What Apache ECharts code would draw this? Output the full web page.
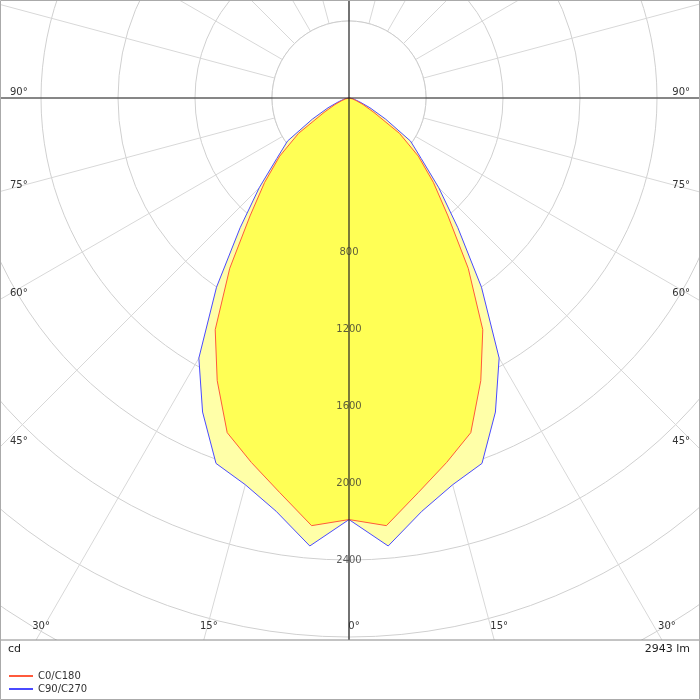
<!DOCTYPE html>
<html><head><meta charset="utf-8">
<script src="https://cdn.jsdelivr.net/npm/echarts@6/dist/echarts.min.js"></script>
<style>html,body{margin:0;padding:0;background:#fff}#chart{width:700px;height:700px}</style>
</head><body><div id="chart"></div>
<script>
// half-curve angles (deg from nadir) and intensities (cd)
var angles = [0, 5, 10, 15, 20, 25, 30, 35, 40, 45, 50, 55, 60, 65, 70, 75, 80, 90];
var c0c180 = [2190, 2230, 2080, 1960, 1850, 1620, 1390, 1080, 800, 620, 470, 320, 150, 80, 40, 20, 10, 0];
var c90c270 = [2190, 2336, 2180, 2080, 2020, 1800, 1560, 1200, 880, 660, 490, 390, 220, 120, 60, 30, 12, 0];
var radiusTicks = [800, 1200, 1600, 2000, 2400];
var sideLabels = [90, 75, 60, 45];
var bottomLabels = [30, 15, 0];
var lumen = '2943 lm';

var cx = 349, cy = 98, rMax = 3600, rPx = 693, bottomY = 640;

function mirror(vals) {
  var out = [];
  for (var i = angles.length - 1; i > 0; i--) out.push([vals[i], -angles[i]]);
  for (var j = 0; j < angles.length; j++) out.push([vals[j], angles[j]]);
  return out;
}

var chart = echarts.init(document.getElementById('chart'));
var font = 'DejaVu Sans';
var graphics = [
  { type: 'circle', z: 1, shape: { cx: cx, cy: cy, r: rPx * 400 / rMax }, style: { fill: '#fff', stroke: '#ccc', lineWidth: 1 } },
  { type: 'line', z: 10, shape: { x1: 0, y1: cy, x2: 700, y2: cy }, style: { stroke: '#222', lineWidth: 1.2 } },
  { type: 'line', z: 10, shape: { x1: cx, y1: 0, x2: cx, y2: bottomY }, style: { stroke: '#222', lineWidth: 1.2 } },
  { type: 'rect', z: 20, shape: { x: 0, y: bottomY, width: 700, height: 60 }, style: { fill: '#fff' } },
  { type: 'line', z: 21, shape: { x1: 0, y1: bottomY, x2: 700, y2: bottomY }, style: { stroke: '#888', lineWidth: 1 } },
  { type: 'rect', z: 21, shape: { x: 0.5, y: 0.5, width: 699, height: 699 }, style: { fill: 'none', stroke: '#aaa', lineWidth: 1 } },
  { type: 'text', z: 22, left: 8, top: 644, style: { text: 'cd', font: '11px ' + font, fill: '#222' } },
  { type: 'text', z: 22, right: 10, top: 644, style: { text: lumen, font: '11px ' + font, fill: '#222' } }
];
sideLabels.forEach(function (a) {
  var dy = a === 90 ? 0 : cx / Math.tan(a * Math.PI / 180);
  var y = cy + dy - 6;
  graphics.push({ type: 'text', z: 22, x: 10, y: y, style: { text: a + '°', font: '10px ' + font, fill: '#333', align: 'left', verticalAlign: 'middle' } });
  graphics.push({ type: 'text', z: 22, x: 690, y: y, style: { text: a + '°', font: '10px ' + font, fill: '#333', align: 'right', verticalAlign: 'middle' } });
});
bottomLabels.forEach(function (a) {
  var dx = (bottomY - cy) * Math.tan(a * Math.PI / 180);
  [-1, 1].forEach(function (s) {
    if (a === 0 && s > 0) return;
    graphics.push({ type: 'text', z: 22, x: cx + s * dx + 5, y: 626, style: { text: a + '°', font: '10px ' + font, fill: '#333', align: 'center', verticalAlign: 'middle' } });
  });
});

chart.setOption({
  animation: false,
  textStyle: { fontFamily: font },
  polar: { center: [cx, cy], radius: rPx },
  angleAxis: {
    type: 'value', min: -180, max: 180, interval: 15, startAngle: 90, clockwise: true,
    axisLine: { show: false }, axisTick: { show: false }, axisLabel: { show: false },
    splitLine: { lineStyle: { color: '#d8d8d8', width: 1 } }
  },
  radiusAxis: {
    type: 'value', min: 0, max: rMax, interval: 400,
    axisLine: { show: false }, axisTick: { show: false }, axisLabel: { show: false },
    splitLine: { lineStyle: { color: '#d0d0d0', width: 1 } }
  },
  legend: {
    z: 40, orient: 'vertical', left: 4, top: 666, itemWidth: 24, itemHeight: 2, itemGap: 3,
    icon: 'rect', textStyle: { fontSize: 10, color: '#333', fontFamily: font },
    data: ['C0/C180', 'C90/C270']
  },
  graphic: graphics,
  series: [
    { name: 'C90/C270', type: 'line', coordinateSystem: 'polar', data: mirror(c90c270), symbol: 'none', z: 3,
      lineStyle: { color: '#4a4aff', width: 1 }, itemStyle: { color: '#4a4aff' },
      areaStyle: { color: '#ffffa8', opacity: 1 } },
    { name: 'C0/C180', type: 'line', coordinateSystem: 'polar', data: mirror(c0c180), symbol: 'none', z: 4,
      lineStyle: { color: '#ff5a3c', width: 1 }, itemStyle: { color: '#ff5a3c' },
      areaStyle: { color: '#ffff55', opacity: 1 } },
    { type: 'scatter', coordinateSystem: 'polar', symbolSize: 0, z: 12,
      data: radiusTicks.map(function (r) { return [r, 0]; }),
      label: { show: true, position: 'inside', formatter: function (p) { return p.value[0]; },
        color: '#333', fontSize: 10, fontFamily: font } }
  ]
});
</script></body></html>
